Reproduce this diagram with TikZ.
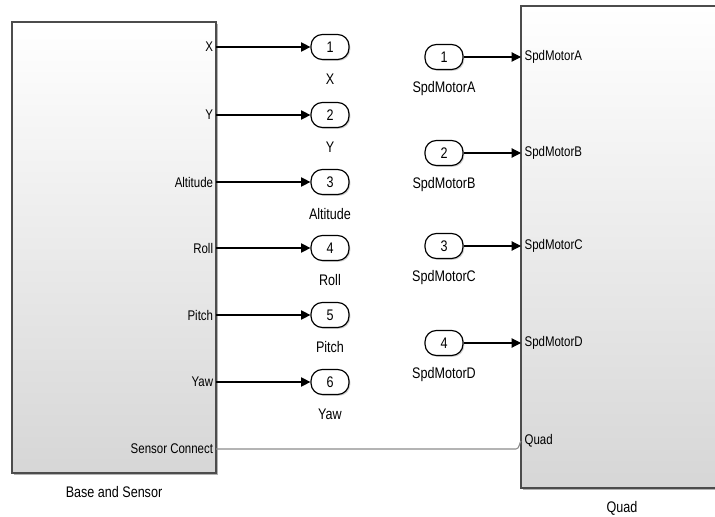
\documentclass[tikz,border=0pt]{standalone}
\usepackage{fontspec}
\setmainfont{Liberation Sans}[FakeStretch=0.82]
\usetikzlibrary{arrows.meta,shadows}
\begin{document}
\begin{tikzpicture}[x=0.75pt,y=-0.75pt,
  portfont/.style={font=\fontsize{10.5}{12}\selectfont},
  namefont/.style={font=\fontsize{11.5}{13}\selectfont},
  block/.style={draw=black!70, line width=1pt, inner sep=0pt,
    top color=white, middle color=black!3, bottom color=black!16,
    drop shadow={shadow xshift=1.5pt, shadow yshift=-1.5pt, opacity=0.5, fill=black!60}},
  oval/.style={draw=black, line width=0.9pt, fill=white, rounded corners=8.5pt,
    minimum width=28.5pt, minimum height=18.75pt, inner sep=0pt, namefont,
    drop shadow={shadow xshift=1pt, shadow yshift=-1pt, opacity=0.35}},
  sig/.style={line width=0.8pt, -{Triangle[length=7pt,width=7pt]}},
  phys/.style={line width=0.8pt, draw=black!45}
]
\clip (0,0) rectangle (715,517);
\fill[white] (0,0) rectangle (715,517);

% blocks
\node[block, minimum width=153pt, minimum height=338.25pt] (base) at (114,247.5) {};
\node[block, minimum width=151.5pt, minimum height=361.5pt] (quad) at (622,247) {};
\node[namefont, anchor=north] (baseL) at (114,482) {Base and Sensor};
\node[namefont, anchor=north] (quadL) at (622,497) {Quad};

% outputs of base
\foreach \n/\lab/\y in {1/X/47, 2/Y/115, 3/Altitude/182, 4/Roll/248, 5/Pitch/315, 6/Yaw/382}{
  \coordinate (bp\n) at (216,\y);
  \node[portfont, anchor=east, inner sep=2pt] (bpl\n) at (bp\n) {\lab};
  \node[oval] (o\n) at (330,\y) {\n};
  \node[namefont, anchor=center] (ol\n) at (330,\y+32) {\lab};
  \draw[sig] (bp\n) -- (o\n);
}
\coordinate (bsc) at (216,449);
\node[portfont, anchor=east, inner sep=2pt] (bscl) at (bsc) {Sensor Connect};

% inputs of quad
\foreach \n/\lab/\y in {1/SpdMotorA/57, 2/SpdMotorB/153, 3/SpdMotorC/246, 4/SpdMotorD/343}{
  \coordinate (qp\n) at (521,\y);
  \node[portfont, anchor=west, inner sep=2.5pt] (qpl\n) at (qp\n) {\lab};
  \node[oval] (i\n) at (444,\y) {\n};
  \node[namefont, anchor=center] (il\n) at (444,\y+32) {\lab};
  \draw[sig] (i\n) -- (qp\n);
}
\coordinate (qq) at (521,441);
\node[portfont, anchor=west, inner sep=2.5pt] (qql) at (qq) {Quad};
\coordinate (bend) at (516,449);
\draw[phys] (bsc) -- (bend) .. controls (519.5,449) and (519.5,442) .. (qq);
\end{tikzpicture}
\end{document}
